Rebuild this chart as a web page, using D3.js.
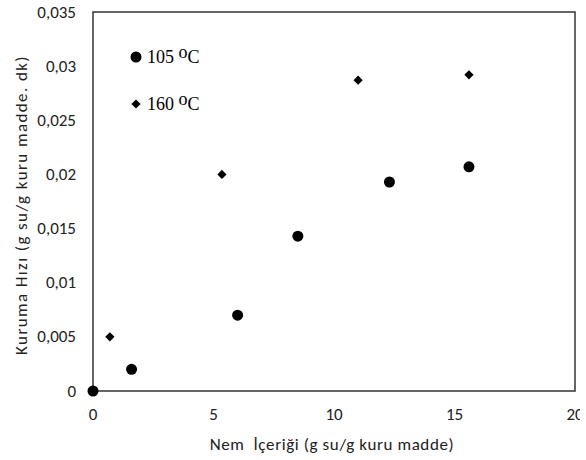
<!DOCTYPE html>
<html>
<head>
<meta charset="utf-8">
<script src="https://cdn.jsdelivr.net/npm/d3@7"></script>
<style>
  body { margin: 0; background: #fff; }
  .tick-label { font-family: Carlito, Lato, sans-serif; font-size: 17px; fill: #222; }
  .axis-title { font-family: Carlito, Lato, sans-serif; font-size: 17px; fill: #222; }
  .legend-label { font-family: "Liberation Serif", serif; font-size: 18px; fill: #000; }
</style>
</head>
<body>
<div id="chart"></div>
<script>
// 105 oC series (circles)
var x105 = [0, 1.6, 6.0, 8.5, 12.3, 15.6];
var y105 = [0, 0.002, 0.007, 0.0143, 0.0193, 0.0207];
// 160 oC series (diamonds)
var x160 = [0.7, 5.35, 11.0, 15.6];
var y160 = [0.005, 0.02, 0.0287, 0.0292];

var xTicks = [0, 5, 10, 15, 20];
var yTicks = [0, 0.005, 0.01, 0.015, 0.02, 0.025, 0.03, 0.035];
var yTickLabels = ['0', '0,005', '0,01', '0,015', '0,02', '0,025', '0,03', '0,035'];

var width = 586, height = 460;
var margin = {top: 12, right: 11, bottom: 69, left: 93};

var svg = d3.select('#chart').append('svg')
  .attr('width', width)
  .attr('height', height);

// the original picture is cut off a little before the right edge
svg.append('clipPath').attr('id', 'cut')
  .append('rect').attr('x', 0).attr('y', 0).attr('width', 580).attr('height', height);

var x = d3.scaleLinear().domain([0, 20]).range([margin.left, width - margin.right]);
var y = d3.scaleLinear().domain([0, 0.035]).range([height - margin.bottom, margin.top]);

// plot frame
svg.append('rect')
  .attr('x', x(0))
  .attr('y', y(0.035))
  .attr('width', x(20) - x(0))
  .attr('height', y(0) - y(0.035))
  .attr('fill', 'none')
  .attr('stroke', '#404040')
  .attr('stroke-width', 1.6);

// y tick labels
svg.selectAll('.ytick')
  .data(yTicks)
  .enter().append('text')
  .attr('class', 'tick-label')
  .attr('x', 76)
  .attr('y', function(d) { return y(d) + 5.5; })
  .attr('text-anchor', 'end')
  .text(function(d, i) { return yTickLabels[i]; });

// x tick labels
svg.append('g').attr('clip-path', 'url(#cut)')
  .selectAll('.xtick')
  .data(xTicks)
  .enter().append('text')
  .attr('class', 'tick-label')
  .attr('x', function(d) { return x(d); })
  .attr('y', 420)
  .attr('text-anchor', 'middle')
  .text(function(d) { return d; });

// axis titles
svg.append('text')
  .attr('class', 'axis-title')
  .attr('x', 332)
  .attr('y', 450)
  .attr('text-anchor', 'middle')
  .attr('letter-spacing', 0.6)
  .attr('xml:space', 'preserve')
  .text('Nem  İçeriği (g su/g kuru madde)');

svg.append('text')
  .attr('class', 'axis-title')
  .attr('transform', 'translate(27,205) rotate(-90)')
  .attr('text-anchor', 'middle')
  .attr('letter-spacing', 1.4)
  .text('Kuruma Hızı (g su/g kuru madde. dk)');

// 105 series
svg.selectAll('.p105')
  .data(d3.range(x105.length))
  .enter().append('circle')
  .attr('cx', function(i) { return x(x105[i]); })
  .attr('cy', function(i) { return y(y105[i]); })
  .attr('r', 5.5)
  .attr('fill', '#000');

// 160 series
var diamond = d3.symbol().type(d3.symbolDiamond2).size(54);
svg.selectAll('.p160')
  .data(d3.range(x160.length))
  .enter().append('path')
  .attr('d', diamond)
  .attr('transform', function(i) { return 'translate(' + x(x160[i]) + ',' + y(y160[i]) + ')'; })
  .attr('fill', '#000');

// legend
var legend = svg.append('g');
legend.append('circle').attr('cx', 136).attr('cy', 57).attr('r', 5.5).attr('fill', '#000');
legend.append('path').attr('d', diamond).attr('transform', 'translate(136,104)').attr('fill', '#000');

function legendLabel(yy, num) {
  var t = legend.append('text').attr('class', 'legend-label').attr('x', 147).attr('y', yy);
  t.append('tspan').text(num + ' ');
  t.append('tspan').attr('dy', -5).attr('font-size', 18).text('o');
  t.append('tspan').attr('dy', 5).text('C');
}
legendLabel(63, '105');
legendLabel(110, '160');
</script>
</body>
</html>
